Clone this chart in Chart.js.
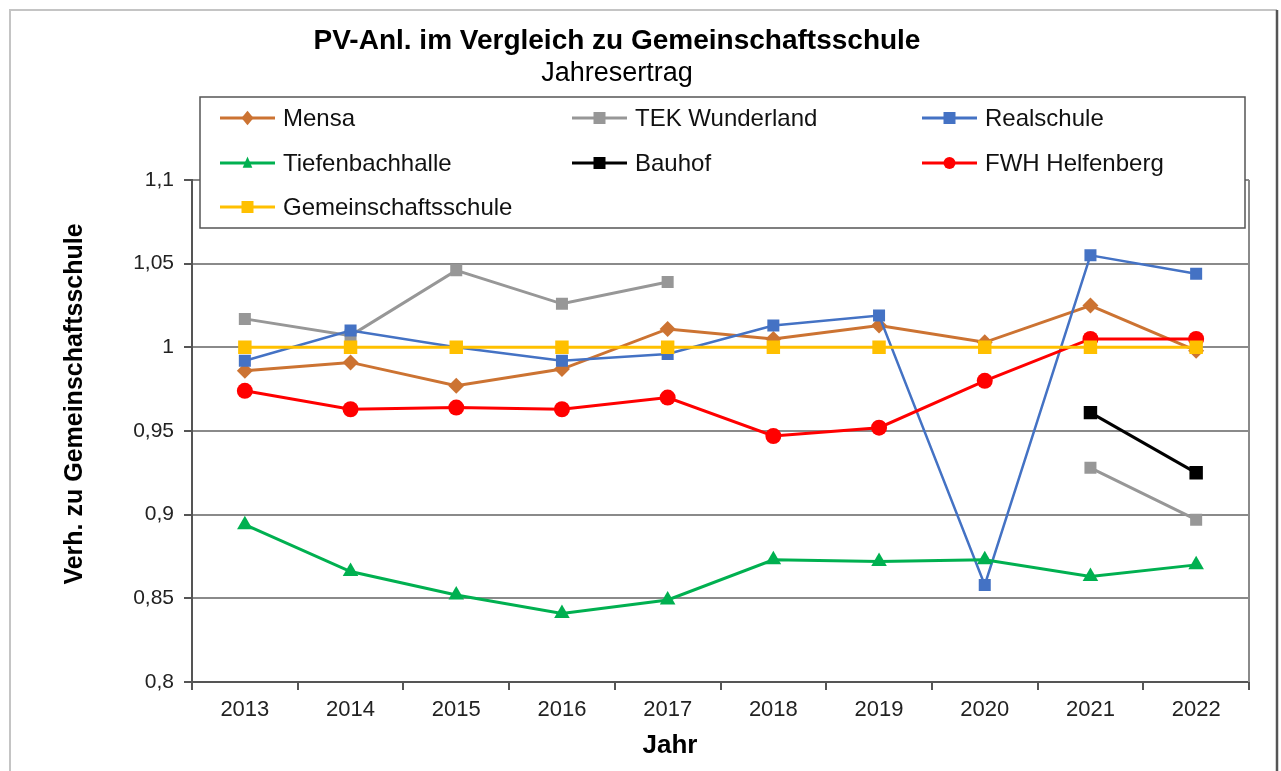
<!DOCTYPE html>
<html>
<head>
<meta charset="utf-8">
<script src="https://cdn.jsdelivr.net/npm/chart.js@4.4.1/dist/chart.umd.min.js"></script>
<style>
html,body{margin:0;padding:0;background:#fff;}
canvas{display:block;}
</style>
</head>
<body>
<canvas id="c" width="1281" height="771"></canvas>
<script>
const years = ['2013','2014','2015','2016','2017','2018','2019','2020','2021','2022'];
const yTicks = [0.8, 0.85, 0.9, 0.95, 1, 1.05, 1.1];

const mensa            = [0.986, 0.991, 0.977, 0.987, 1.011, 1.005, 1.013, 1.003, 1.025, 0.998];
const tekWunderland    = [1.017, 1.007, 1.046, 1.026, 1.039, null, null, null, 0.928, 0.897];
const realschule       = [0.992, 1.010, 1.000, 0.992, 0.996, 1.013, 1.019, 0.858, 1.055, 1.044];
const tiefenbachhalle  = [0.894, 0.866, 0.852, 0.841, 0.849, 0.873, 0.872, 0.873, 0.863, 0.870];
const bauhof           = [null, null, null, null, null, null, null, null, 0.961, 0.925];
const fwhHelfenberg    = [0.974, 0.963, 0.964, 0.963, 0.970, 0.947, 0.952, 0.980, 1.005, 1.005];
const gemeinschaft     = [1, 1, 1, 1, 1, 1, 1, 1, 1, 1];

const FONT = '"Liberation Sans", Arial, sans-serif';

const series = [
  {label:'Mensa', data:mensa, color:'#CC7332', style:'rectRot', r:8, w:3},
  {label:'TEK Wunderland', data:tekWunderland, color:'#979797', style:'rect', r:8.5, w:3},
  {label:'Realschule', data:realschule, color:'#4472C4', style:'rect', r:8.5, w:2.5},
  {label:'Tiefenbachhalle', data:tiefenbachhalle, color:'#00B050', style:'triangle', r:9, w:3},
  {label:'Bauhof', data:bauhof, color:'#000000', style:'rect', r:9.5, w:3},
  {label:'FWH Helfenberg', data:fwhHelfenberg, color:'#FF0000', style:'circle', r:8, w:3},
  {label:'Gemeinschaftsschule', data:gemeinschaft, color:'#FFC000', style:'rect', r:9.5, w:3}
];

function drawMarker(ctx, style, x, y, r, color){
  ctx.save();
  ctx.fillStyle = color;
  ctx.beginPath();
  if(style==='rect'){ ctx.rect(x-r, y-r, 2*r, 2*r); }
  else if(style==='rectRot'){ ctx.moveTo(x, y-r*1.2); ctx.lineTo(x+r, y); ctx.lineTo(x, y+r*1.2); ctx.lineTo(x-r, y); ctx.closePath(); }
  else if(style==='triangle'){ ctx.moveTo(x, y-r*1.1); ctx.lineTo(x+r*0.8, y+r*0.8); ctx.lineTo(x-r*0.8, y+r*0.8); ctx.closePath(); }
  else { ctx.arc(x, y, r, 0, Math.PI*2); }
  ctx.fill();
  ctx.restore();
}

const decor = {
  id:'decor',
  beforeDraw(chart){
    const ctx = chart.ctx;
    ctx.save();
    ctx.fillStyle = '#fff';
    ctx.fillRect(0,0,chart.width,chart.height);
    ctx.strokeStyle = '#c4c4c4';
    ctx.lineWidth = 2;
    ctx.beginPath();
    ctx.moveTo(10, 780); ctx.lineTo(10, 10); ctx.lineTo(1277, 10);
    ctx.stroke();
    ctx.strokeStyle = '#555';
    ctx.lineWidth = 2.5;
    ctx.beginPath();
    ctx.moveTo(1277, 10); ctx.lineTo(1277, 780);
    ctx.stroke();
    ctx.restore();
  },
  afterDatasetsDraw(chart){
    const ctx = chart.ctx;
    const a = chart.chartArea;
    ctx.save();
    ctx.strokeStyle = '#8a8a8a';
    ctx.lineWidth = 2;
    ctx.beginPath();
    ctx.moveTo(a.right, a.top); ctx.lineTo(a.right, a.bottom);
    ctx.stroke();
    ctx.restore();
  },
  afterDraw(chart){
    const ctx = chart.ctx;
    ctx.save();
    ctx.fillStyle = '#000';
    ctx.textAlign = 'center';
    ctx.textBaseline = 'middle';
    ctx.font = 'bold 28px ' + FONT;
    ctx.fillText('PV-Anl. im Vergleich zu Gemeinschaftsschule', 617, 41);
    ctx.font = '27px ' + FONT;
    ctx.fillText('Jahresertrag', 617, 74);
    ctx.font = 'bold 26px ' + FONT;
    ctx.fillText('Jahr', 670, 746);
    ctx.save();
    ctx.translate(75, 404);
    ctx.rotate(-Math.PI/2);
    ctx.font = 'bold 25px ' + FONT;
    ctx.fillText('Verh. zu Gemeinschaftsschule', 0, 0);
    ctx.restore();
    // legend box
    const lx = 200, ly = 97, lw = 1045, lh = 131;
    ctx.fillStyle = '#fff';
    ctx.fillRect(lx, ly, lw, lh);
    ctx.strokeStyle = '#555';
    ctx.lineWidth = 1.5;
    ctx.strokeRect(lx, ly, lw, lh);
    const cols = [220, 572, 922];
    const rows = [118, 163, 207];
    ctx.font = '24px ' + FONT;
    ctx.textAlign = 'left';
    series.forEach((s, i) => {
      const x = cols[i % 3], y = rows[Math.floor(i / 3)];
      ctx.strokeStyle = s.color;
      ctx.lineWidth = 3;
      ctx.beginPath();
      ctx.moveTo(x, y); ctx.lineTo(x + 55, y);
      ctx.stroke();
      drawMarker(ctx, s.style, x + 27.5, y, 6, s.color);
      ctx.fillStyle = '#111';
      ctx.fillText(s.label, x + 63, y + 1);
    });
    ctx.restore();
  }
};

new Chart(document.getElementById('c'), {
  type:'line',
  data:{
    labels: years,
    datasets: series.map((s, i) => ({
      label: s.label,
      data: s.data,
      borderColor: s.color,
      backgroundColor: s.color,
      borderWidth: s.w,
      pointStyle: s.style,
      pointRadius: s.r,
      pointBorderWidth: 0,
      pointBackgroundColor: s.color,
      spanGaps: false,
      tension: 0,
      order: series.length - i
    }))
  },
  options:{
    responsive:false,
    animation:false,
    events:[],
    layout:{padding:{left:0, top:180, right:32, bottom:0}},
    plugins:{legend:{display:false}, title:{display:false}, tooltip:{enabled:false}},
    scales:{
      x:{
        type:'category',
        offset:true,
        grid:{display:true, drawOnChartArea:false, drawTicks:true, tickLength:8, color:'#555', lineWidth:2, offset:true},
        border:{display:true, color:'#555', width:2},
        ticks:{color:'#222', font:{family:FONT, size:22}, padding:7, maxRotation:0, autoSkip:false},
        afterFit(scale){ scale.height = 89; }
      },
      y:{
        min:0.8, max:1.1,
        afterBuildTicks(scale){ scale.ticks = yTicks.map(v => ({value:v})); },
        grid:{color:'#8a8a8a', lineWidth:2, tickLength:8, drawTicks:true, tickColor:'#555'},
        border:{display:true, color:'#555', width:2},
        ticks:{color:'#222', font:{family:FONT, size:21}, padding:10,
          callback(v){ return String(Math.round(v*100)/100).replace('.', ','); }},
        afterFit(scale){ scale.width = 192; }
      }
    }
  },
  plugins:[decor]
});
</script>
</body>
</html>
